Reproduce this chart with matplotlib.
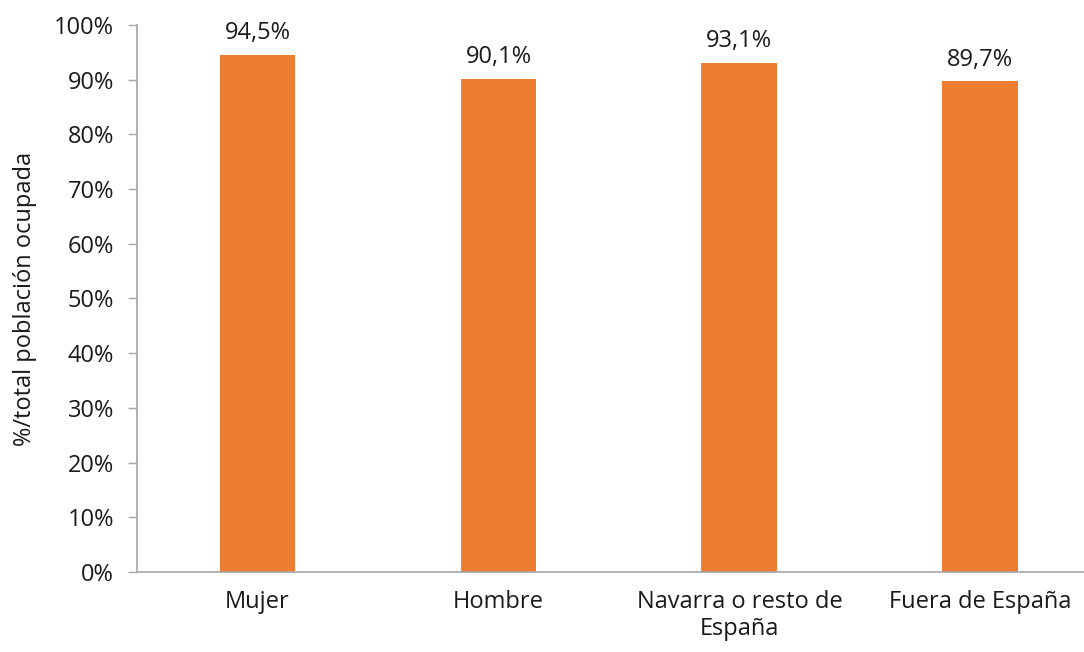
import matplotlib.pyplot as plt
import numpy as np
from matplotlib.ticker import FuncFormatter

categories = ["Mujer", "Hombre", "Navarra o resto de\nEspaña", "Fuera de España"]
values = [0.945, 0.901, 0.931, 0.897]
y_ticks = np.arange(0, 1.01, 0.1)

plt.rcParams["font.family"] = ["Open Sans", "DejaVu Sans"]
plt.rcParams["font.size"] = 17

fig = plt.figure(figsize=(10.84, 6.52), dpi=100)
ax = fig.add_axes([0.1264, 0.1227, 0.8736, 0.839])

x = np.arange(len(categories))
bars = ax.bar(x, values, width=0.315, color="#ED7D31", zorder=2)
for bar, v in zip(bars, values):
    ax.annotate(f"{v * 100:.1f}%".replace(".", ","),
                (bar.get_x() + bar.get_width() / 2, v),
                xytext=(0, 7), textcoords="offset points",
                ha="center", va="bottom", color="#1a1a1a")

ax.set_xlim(-0.5, 3.43)
ax.set_ylim(0, 1)
ax.set_yticks(y_ticks)
ax.yaxis.set_major_formatter(FuncFormatter(lambda v, _: f"{v * 100:.0f}%"))
ax.set_xticks(x)
ax.set_xticklabels(categories, linespacing=1.15)
ax.tick_params(axis="x", length=0, pad=13, colors="#1a1a1a")
ax.tick_params(axis="y", length=6.5, width=1, color="#a6a6a6", colors="#1a1a1a", pad=10)
ax.tick_params(axis="y", color="#a6a6a6")
ax.set_ylabel("%/total población ocupada", color="#1a1a1a", labelpad=12)

for side in ("top", "right"):
    ax.spines[side].set_visible(False)
for side in ("left", "bottom"):
    ax.spines[side].set_color("#a6a6a6")
    ax.spines[side].set_linewidth(1.2)

fig.savefig("out.png", dpi=100)
